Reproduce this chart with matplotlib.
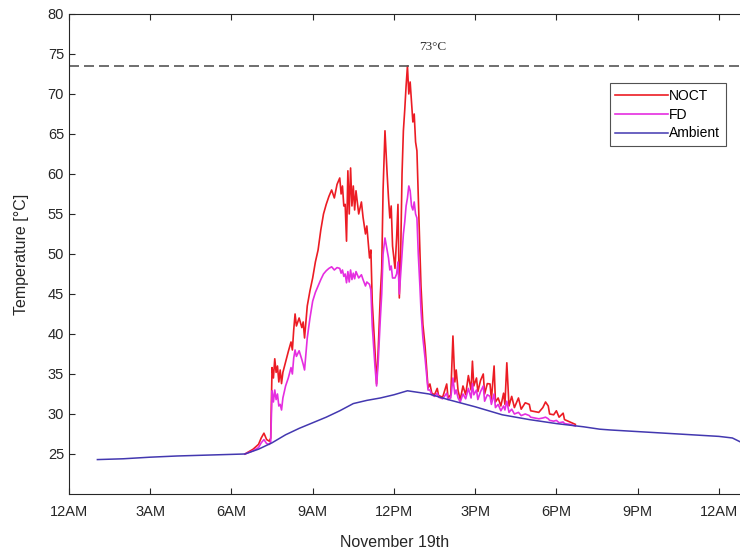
import matplotlib
matplotlib.use("Agg")
import matplotlib.pyplot as plt

plt.rcParams['font.family'] = ['Liberation Sans', 'DejaVu Sans']

# ambient temperature (hours after midnight, degC)
amb_t = [1.05, 2, 3, 4, 5, 6, 6.5, 7, 7.5, 8, 8.5, 9, 9.5, 10, 10.5, 11, 11.5, 12, 12.5,
         13.3, 14, 15, 16, 17, 18, 19, 19.6, 20, 21, 22, 23, 24, 24.5, 24.8]
amb_v = [24.3, 24.4, 24.6, 24.75, 24.85, 24.95, 25.0, 25.6, 26.4, 27.4, 28.2, 28.9, 29.6, 30.4,
         31.3, 31.7, 32.0, 32.4, 32.9, 32.5, 31.8, 30.9, 29.9, 29.3, 28.8, 28.4, 28.1, 28.0,
         27.8, 27.6, 27.4, 27.2, 27.0, 26.5]

# module temperatures, same time base
mod_t = [6.5, 6.8, 7.0, 7.1, 7.2, 7.3, 7.4, 7.45, 7.5, 7.55, 7.6, 7.65, 7.7, 7.75, 7.8, 7.85, 7.9,
         8.0, 8.1, 8.2, 8.25, 8.3, 8.35, 8.4, 8.5, 8.6, 8.65, 8.7, 8.8, 8.9, 9.0, 9.1, 9.2, 9.3,
         9.4, 9.5, 9.6, 9.7, 9.8, 9.9, 10.0, 10.05, 10.1, 10.15, 10.2, 10.25, 10.3, 10.35, 10.4,
         10.45, 10.5, 10.55, 10.6, 10.7, 10.8, 10.86, 10.95, 11.0, 11.1, 11.15, 11.2, 11.3, 11.36,
         11.42, 11.5, 11.55, 11.6, 11.67, 11.75, 11.8, 11.85, 11.9, 11.95, 12.04, 12.1, 12.15,
         12.2, 12.25, 12.3, 12.35, 12.4, 12.45, 12.5, 12.55, 12.6, 12.65, 12.7, 12.75, 12.8,
         12.85, 12.9, 12.96, 13.0, 13.07, 13.15, 13.26, 13.33, 13.4, 13.5, 13.6, 13.65, 13.8,
         13.95, 14.0, 14.1, 14.18, 14.25, 14.3, 14.37, 14.45, 14.55, 14.65, 14.75, 14.85, 14.9,
         14.95, 15.05, 15.1, 15.2, 15.3, 15.35, 15.45, 15.55, 15.6, 15.7, 15.75, 15.85, 15.95,
         16.05, 16.1, 16.17, 16.25, 16.35, 16.45, 16.6, 16.7, 16.85, 17.0, 17.05, 17.2, 17.35,
         17.5, 17.6, 17.7, 17.75, 17.9, 18.0, 18.1, 18.25, 18.3, 18.5, 18.7]
noct = [25.0, 25.6, 26.2, 27.0, 27.6, 26.8, 26.6, 27.0, 35.8, 34.5, 36.9, 35.2, 36.0, 34.0, 35.5,
        33.8, 35.2, 36.5, 37.8, 39.0, 38.0, 40.5, 42.5, 41.0, 42.0, 40.8, 41.5, 39.5, 43.5, 45.4,
        47.0, 49.0, 50.5, 53.0, 55.0, 56.2, 57.2, 58.0, 57.0, 58.7, 59.5, 57.5, 58.5, 56.0, 56.2,
        51.6, 60.4, 55.0, 60.75, 56.0, 58.5, 55.5, 57.9, 55.0, 56.5, 54.6, 52.5, 53.5, 49.5, 50.5,
        44.0, 38.0, 33.75, 38.0, 45.0, 48.2, 58.0, 65.4, 60.0, 57.0, 54.5, 56.0, 51.0, 48.2, 52.0,
        56.2, 44.5, 50.0, 60.0, 65.4, 68.0, 71.0, 73.5, 70.0, 71.5, 69.0, 66.5, 67.5, 64.0, 62.9,
        57.0, 50.4, 46.0, 41.2, 38.5, 33.25, 33.75, 32.6, 32.4, 33.2, 32.3, 32.1, 33.75, 32.0,
        32.4, 39.75, 34.0, 35.5, 32.9, 31.8, 33.5, 32.4, 34.8, 33.0, 36.6, 33.5, 34.5, 32.8, 34.2,
        35.0, 32.5, 33.8, 33.75, 31.8, 36.0, 31.5, 32.0, 31.0, 32.6, 31.2, 36.4, 31.0, 32.2, 30.8,
        32.0, 30.6, 31.4, 31.2, 30.4, 30.3, 30.2, 30.8, 31.5, 31.0, 30.0, 29.9, 30.4, 29.6, 30.1,
        29.3, 29.0, 28.7]
fd = [25.0, 25.4, 25.8, 26.4, 26.8, 26.3, 26.2, 26.5, 32.9, 31.5, 33.0, 31.8, 32.5, 31.0, 31.2,
      30.5, 32.0, 33.5, 34.5, 35.8, 35.0, 37.0, 38.0, 37.2, 37.9, 36.8, 36.2, 35.5, 39.5, 42.0,
      44.1, 45.2, 46.0, 46.8, 47.5, 47.9, 48.2, 48.4, 48.0, 48.3, 48.2, 47.6, 48.0, 47.2, 47.5,
      46.4, 47.8, 46.5, 48.0, 46.8, 47.6, 46.9, 47.8, 47.0, 47.4, 46.8, 46.0, 46.5, 46.2, 45.5,
      41.0, 36.0, 33.5, 36.5, 42.0, 45.0, 50.0, 52.0, 50.5, 49.5, 48.0, 48.5, 47.0, 47.0, 47.5,
      49.0, 45.0, 47.5, 50.0, 52.5, 54.0, 56.0, 57.0, 58.5, 57.9, 56.0, 55.5, 56.5, 55.0, 54.5,
      50.0, 46.0, 43.0, 39.5, 37.0, 33.0, 33.0, 32.4, 32.2, 32.6, 32.1, 31.9, 32.6, 31.8, 32.0,
      34.5, 32.5, 33.0, 32.0, 31.5, 32.5, 31.9, 33.2, 32.0, 33.8, 32.4, 33.0, 31.8, 32.8, 33.5,
      31.6, 32.4, 32.2, 31.2, 32.5, 30.8, 31.2, 30.4, 31.0, 30.5, 31.6, 30.2, 30.6, 30.0, 30.2,
      29.8, 30.0, 29.8, 29.6, 29.5, 29.4, 29.5, 29.6, 29.4, 29.2, 29.1, 29.2, 28.9, 29.0, 28.8,
      28.7, 28.5]

peak_temp = 73.5
x_ticks = [0, 3, 6, 9, 12, 15, 18, 21, 24]
x_labels = ['12AM', '3AM', '6AM', '9AM', '12PM', '3PM', '6PM', '9PM', '12AM']
y_ticks = [25, 30, 35, 40, 45, 50, 55, 60, 65, 70, 75, 80]

fig = plt.figure(figsize=(7.4, 5.52), dpi=100)
ax = fig.add_axes([0.0932, 0.1051, 0.9514, 0.8696])

ax.plot(mod_t, noct, color='#ec1c24', lw=1.2, label='NOCT')
ax.plot(mod_t, fd, color='#e52ee0', lw=1.2, label='FD')
ax.plot(amb_t, amb_v, color='#4338b0', lw=1.1, label='Ambient')
ax.axhline(peak_temp, color='#555555', lw=1.2, dashes=(6, 3))
ax.text(13.44, 75.9, '73°C', family='Liberation Serif', fontsize=9.5, color='#333333',
        ha='center', va='center')

ax.set_xlim(0, 26)
ax.set_ylim(20, 80)
ax.set_xticks(x_ticks)
ax.set_xticklabels(x_labels)
ax.set_yticks(y_ticks)
ax.tick_params(direction='in', length=4, labelsize=10.5, colors='#262626', top=True,
               right=False, width=0.8)
ax.tick_params(axis='x', pad=8)
for side in ['left', 'top', 'bottom']:
    ax.spines[side].set_color('#262626')
    ax.spines[side].set_linewidth(0.8)
ax.spines['right'].set_visible(False)

ax.set_xlabel('November 19th', fontsize=11.5, color='#262626')
ax.xaxis.set_label_coords(0.463, -0.085)
ax.set_ylabel('Temperature [°C]', fontsize=11.5, color='#262626')
ax.yaxis.set_label_coords(-0.057, 0.5)

leg = ax.legend(loc='upper right', bbox_to_anchor=(0.933, 0.856), borderaxespad=0,
                fancybox=False, fontsize=10, handlelength=3.8, handletextpad=0.1,
                labelspacing=0.35, borderpad=0.4)
leg.get_frame().set_edgecolor('#262626')
leg.get_frame().set_linewidth(0.8)

fig.savefig('out.png', dpi=100)
